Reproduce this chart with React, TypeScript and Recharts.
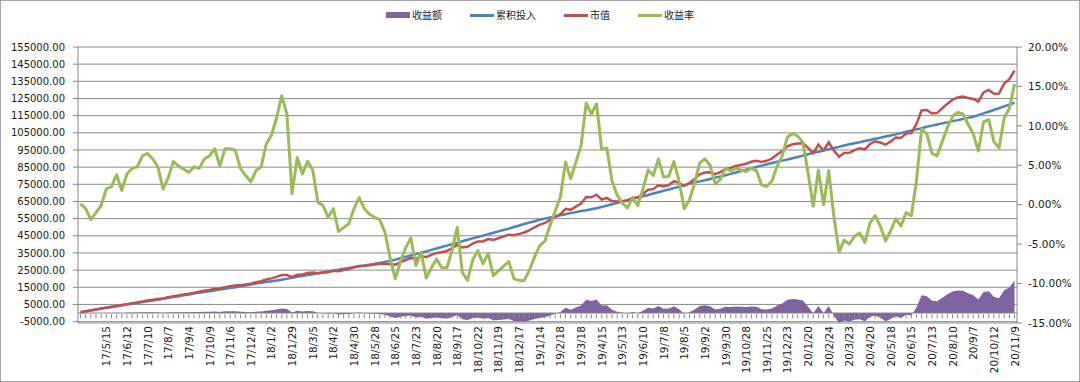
import { ComposedChart, Area, Line, XAxis, YAxis, CartesianGrid, ReferenceLine } from 'recharts'

// x-axis labels, one every 4 weeks
const tickLabels = [
  '17/5/15', '17/6/12', '17/7/10', '17/8/7', '17/9/4', '17/10/9', '17/11/6', '17/12/4',
  '18/1/2', '18/1/29', '18/3/5', '18/4/2', '18/4/30', '18/5/28', '18/6/25', '18/7/23', '18/8/20',
  '18/9/17', '18/10/22', '18/11/19', '18/12/17', '19/1/14', '19/2/18', '19/3/18', '19/4/15',
  '19/5/13', '19/6/10', '19/7/8', '19/8/5', '19/9/2', '19/9/30', '19/10/28', '19/11/25',
  '19/12/23', '20/1/20', '20/2/24', '20/3/23', '20/4/20', '20/5/18', '20/6/15', '20/7/13',
  '20/8/10', '20/9/7', '20/10/12', '20/11/9',
]

// 累积投入 (weekly, yuan)
const inputs = [
  500, 1000, 1550, 2100, 2600, 3050, 3550, 4000, 4550, 5000,
  5450, 5900, 6350, 6800, 7300, 7800, 8350, 8850, 9300, 9800,
  10300, 10800, 11300, 11800, 12250, 12700, 13150, 13650, 14100, 14550,
  15000, 15550, 16100, 16650, 17150, 17650, 18100, 18550, 19000, 19450,
  19900, 20600, 21100, 21600, 22100, 22600, 23150, 23650, 24200, 24700,
  25250, 25750, 26250, 26750, 27200, 27700, 28200, 28700, 29200, 29800,
  30400, 31100, 31900, 32700, 33500, 34300, 35100, 35950, 36800, 37600,
  38450, 39300, 40100, 40900, 41800, 42700, 43500, 44300, 45100, 45900,
  46800, 47600, 48400, 49200, 50100, 51000, 51900, 52700, 53500, 54300,
  55000, 55700, 56400, 57000, 57600, 58200, 58800, 59400, 59900, 60500,
  61100, 61800, 62600, 63400, 64200, 65000, 65800, 66600, 67300, 68000,
  68800, 69600, 70400, 71200, 72000, 72800, 73600, 74500, 75300, 76000,
  76700, 77400, 78100, 78900, 79600, 80300, 81100, 81900, 82700, 83500,
  84300, 85100, 85900, 86700, 87400, 88100, 88800, 89500, 90200, 90900,
  91700, 92500, 93300, 94000, 94700, 95400, 96100, 96800, 97600, 98300,
  98900, 99500, 100200, 100800, 101500, 102100, 102800, 103400, 104100, 104800,
  105600, 106300, 107000, 107700, 108500, 109200, 109800, 110500, 111100, 111800,
  112400, 113100, 113700, 114400, 115300, 116300, 117300, 118300, 119300, 120400,
  121400, 122500,
]

// 收益率 (%)
const rates = [
  0.1, -0.5, -1.9, -1.0, -0.1, 2.0, 2.3, 3.8, 1.8, 3.9,
  4.6, 4.8, 6.2, 6.5, 5.8, 4.8, 2.0, 3.4, 5.5, 4.9,
  4.5, 4.1, 4.8, 4.6, 5.8, 6.2, 7.1, 4.9, 7.1, 7.1,
  6.9, 4.6, 3.7, 2.9, 4.3, 4.8, 7.7, 8.8, 11.0, 13.8,
  11.5, 1.4, 6.0, 3.9, 5.5, 4.4, 0.3, -0.1, -1.6, -0.5,
  -3.4, -2.9, -2.4, -0.5, 0.9, -0.5, -1.2, -1.6, -1.9, -3.5,
  -6.7, -9.4, -7.2, -5.5, -4.2, -7.7, -6.0, -9.3, -8.0, -6.9,
  -8.0, -8.0, -5.8, -2.9, -8.6, -9.6, -7.0, -5.8, -7.5, -6.2,
  -9.0, -8.4, -7.8, -7.2, -9.4, -9.6, -9.6, -8.3, -6.6, -5.2,
  -4.6, -2.6, -0.8, 1.0, 5.4, 3.3, 5.4, 7.5, 12.9, 11.5,
  12.8, 7.0, 7.2, 3.0, 1.2, 0.2, -0.4, 0.9, -0.1, 2.0,
  4.4, 3.7, 5.8, 3.5, 3.6, 5.5, 3.0, -0.5, 0.6, 2.7,
  5.3, 5.8, 5.0, 2.6, 3.2, 4.6, 4.3, 4.6, 4.4, 4.2,
  4.6, 4.3, 2.5, 2.3, 3.0, 4.9, 6.2, 8.6, 9.0, 8.7,
  7.9, 4.0, -0.2, 4.4, 0.0, 4.3, -1.5, -6.0, -4.5, -5.0,
  -4.0, -3.6, -4.8, -2.3, -1.4, -2.7, -4.6, -3.3, -1.8, -2.7,
  -1.0, -1.4, 3.0, 9.6, 9.0, 6.5, 6.2, 8.0, 9.8, 11.2,
  11.7, 11.5, 10.2, 9.0, 6.8, 10.5, 10.8, 8.0, 7.2, 11.0,
  12.2, 15.3,
]

const leftTicks = [-5000, 5000, 15000, 25000, 35000, 45000, 55000, 65000, 75000, 85000, 95000, 105000, 115000, 125000, 135000, 145000, 155000]
const rightTicks = [-15, -10, -5, 0, 5, 10, 15, 20]

const LEAD_WEEKS = 5 // weeks before the first label
const LABEL_EVERY = 4

const W = 1080
const H = 382
const TOP = 47
const X_AXIS_H = 59
const PLOT_H = H - TOP - X_AXIS_H
const LEFT_MIN = -5000
const LEFT_MAX = 155000

const COLORS = { profit: '#8064A2', input: '#4F81BD', value: '#C0504D', rate: '#9BBB59' }
const FONT = '"DejaVu Sans", Verdana, sans-serif'
const CJK = '"Noto Sans CJK SC", "Noto Sans", sans-serif'

const parseDate = (s: string) => {
  const [y, m, d] = s.split('/').map(Number)
  return Date.UTC(2000 + y, m - 1, d)
}
const fmtDate = (t: number) => {
  const d = new Date(t)
  return `${d.getUTCFullYear() - 2000}/${d.getUTCMonth() + 1}/${d.getUTCDate()}`
}
const DAY = 86400000

const weeks = inputs.map((_, i) => {
  if (i < LEAD_WEEKS) return fmtDate(parseDate(tickLabels[0]) - (LEAD_WEEKS - i) * 7 * DAY)
  const k = Math.floor((i - LEAD_WEEKS) / LABEL_EVERY)
  const j = (i - LEAD_WEEKS) % LABEL_EVERY
  return j === 0 ? tickLabels[k] : fmtDate(parseDate(tickLabels[k]) + j * 7 * DAY)
})

const data = weeks.map((week, i) => {
  const value = Math.round(inputs[i] * (1 + rates[i] / 100))
  return { week, input: inputs[i], value, profit: value - inputs[i], rate: rates[i] }
})

const labelSet = new Set(tickLabels)
const zeroOffset = (PLOT_H * (0 - LEFT_MIN)) / (LEFT_MAX - LEFT_MIN)

const renderXTick = (props: any) => {
  const { x, y, payload } = props
  const zeroY = y - zeroOffset
  return (
    <g>
      <line x1={x} x2={x} y1={zeroY} y2={zeroY + 4} stroke="#868686" strokeWidth={1} />
      {labelSet.has(payload.value) && (
        <text
          x={x}
          y={y + 3}
          transform={`rotate(-90, ${x}, ${y + 3})`}
          textAnchor="end"
          dominantBaseline="central"
          fontSize={10.5}
          fontFamily={FONT}
          fill="#1a1a1a"
        >
          {payload.value}
        </text>
      )}
    </g>
  )
}

const legendItems = [
  { name: '收益额', color: COLORS.profit, box: true },
  { name: '累积投入', color: COLORS.input },
  { name: '市值', color: COLORS.value },
  { name: '收益率', color: COLORS.rate },
]

export default function App() {
  return (
    <div style={{ position: 'absolute', left: 0, top: 0, width: W, height: H, background: '#fff' }}>
      <ComposedChart width={W} height={H} data={data} margin={{ top: TOP, right: 0, bottom: 0, left: 0 }}>
        <CartesianGrid vertical={false} yAxisId="left" stroke="#8c8c8c" />
        <XAxis
          dataKey="week"
          interval={0}
          height={X_AXIS_H}
          padding={{ left: 2.5, right: 2.5 }}
          axisLine={false}
          tickLine={false}
          tickSize={0}
          tickMargin={0}
          tick={renderXTick}
        />
        <YAxis
          yAxisId="left"
          width={78}
          domain={[LEFT_MIN, LEFT_MAX]}
          ticks={leftTicks}
          interval={0}
          tickFormatter={(v: number) => v.toFixed(2)}
          tick={{ fontSize: 10, fontFamily: FONT, fill: '#1a1a1a' }}
          tickSize={5}
          tickMargin={8}
          stroke="#868686"
        />
        <YAxis
          yAxisId="right"
          orientation="right"
          width={63}
          domain={[-15, 20]}
          ticks={rightTicks}
          interval={0}
          tickFormatter={(v: number) => `${v.toFixed(2)}%`}
          tick={{ fontSize: 10.5, fontFamily: FONT, fill: '#1a1a1a' }}
          tickSize={5}
          tickMargin={6}
          stroke="#868686"
        />
        <Area
          yAxisId="left"
          type="linear"
          dataKey="profit"
          name="收益额"
          baseValue={0}
          fill={COLORS.profit}
          fillOpacity={1}
          stroke="none"
          isAnimationActive={false}
        />
        <ReferenceLine yAxisId="left" y={0} stroke="#868686" />
        <Line yAxisId="left" type="linear" dataKey="input" name="累积投入" stroke={COLORS.input} strokeWidth={2.5} dot={false} isAnimationActive={false} />
        <Line yAxisId="left" type="linear" dataKey="value" name="市值" stroke={COLORS.value} strokeWidth={2.5} dot={false} isAnimationActive={false} />
        <Line yAxisId="right" type="linear" dataKey="rate" name="收益率" stroke={COLORS.rate} strokeWidth={3} strokeLinejoin="round" dot={false} isAnimationActive={false} />
      </ComposedChart>

      {/* legend */}
      <div style={{ position: 'absolute', left: 0, top: 6, width: W, display: 'flex', justifyContent: 'center', gap: 28, fontFamily: CJK, fontSize: 10, color: '#1a1a1a', lineHeight: '18px' }}>
        {legendItems.map((item) => (
          <div key={item.name} style={{ display: 'flex', alignItems: 'center', gap: 2 }}>
            <span style={{ display: 'inline-block', width: 24, height: item.box ? 6 : 3, background: item.color }} />
            <span>{item.name}</span>
          </div>
        ))}
      </div>

      <div style={{ position: 'absolute', left: 0, top: 0, width: W, height: H, boxSizing: 'border-box', border: '1px solid #a6a6a6', pointerEvents: 'none' }} />
    </div>
  )
}
